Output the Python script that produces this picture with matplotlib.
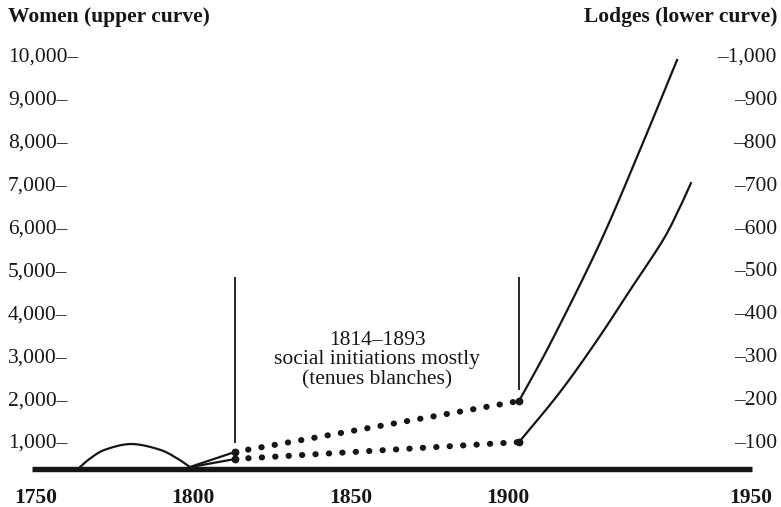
import matplotlib
matplotlib.use("Agg")
import numpy as np
import matplotlib.pyplot as plt

plt.rcParams['font.family'] = ['Liberation Serif', 'DejaVu Serif']

# 18th-century hump (women, adoption lodges)
early_years = [1764.0, 1767.1, 1771.9, 1780.3, 1789.4, 1795.0, 1798.9]
early_women = [394, 587, 796, 930, 796, 587, 394]

# women (left scale)
women_years = [1798.9, 1813.2, 1903.5, 1914.0, 1929.2, 1941.9, 1953.7]
women = [394, 744, 1933, 3355, 5616, 7783, 9881]

# lodges (right scale)
lodge_years = [1798.9, 1813.2, 1903.5, 1916.5, 1928.3, 1938.8, 1949.2, 1954.6, 1958.1]
lodges = [39, 58, 97.5, 214, 335, 452, 568, 645, 701]

# vertical markers around the 1814-1893 period
marker_years = [1813.2, 1903.5]
marker_bottoms = [956, 2191]
marker_top = 4823

base_level = 350
base_span = (1748.7, 1977.5)

x_ticks = [1750, 1800, 1850, 1900, 1977.2]
x_labels = ['1750', '1800', '1850', '1900', '1950']
y_ticks = [1000, 2000, 3000, 4000, 5000, 6000, 7000, 8000, 9000, 10000]
y_labels = ['1,000–', '2,000–', '3,000–', '4,000–', '5,000–',
            '6,000–', '7,000–', '8,000–', '9,000–', '10,000–']
r_ticks = [100, 200, 300, 400, 500, 600, 700, 800, 900, 1000]
r_labels = ['–100', '–200', '–300', '–400', '–500',
            '–600', '–700', '–800', '–900', '–1,000']

ink = '#161616'


def smooth(xs, ys, n=20):
    # catmull-rom through the read points, only for drawing
    p = np.column_stack([xs, ys]).astype(float)
    p = np.vstack([2 * p[0] - p[1], p, 2 * p[-1] - p[-2]])
    out = []
    t = np.linspace(0, 1, n, endpoint=False)[:, None]
    for i in range(1, len(p) - 2):
        p0, p1, p2, p3 = p[i - 1], p[i], p[i + 1], p[i + 2]
        out.append(0.5 * (2 * p1 + (-p0 + p2) * t
                          + (2 * p0 - 5 * p1 + 4 * p2 - p3) * t ** 2
                          + (-p0 + 3 * p1 - 3 * p2 + p3) * t ** 3))
    out.append(p[-2][None, :])
    out = np.vstack(out)
    return out[:, 0], out[:, 1]


fig = plt.figure(figsize=(7.81, 5.07), dpi=100)
ax = fig.add_axes([0, 0, 1, 1])
ax.set_xlim(1738.56, 1986.73)
ax.set_ylim(-538, 11280)
ax2 = ax.twinx()
ax2.set_ylim(-53.8, 1128.0)

for a in (ax, ax2):
    for s in a.spines.values():
        s.set_visible(False)
    a.patch.set_visible(False)

# baseline
ax.plot(base_span, [base_level, base_level], color=ink, lw=3.9,
        solid_capstyle='butt')

# hump
ax.plot(*smooth(early_years, early_women), color=ink, lw=1.6)

dots = dict(color=ink, lw=4.4, linestyle=(0, (0.05, 2.15)),
            dash_capstyle='round')

# women curve
ax.plot(women_years[:2], women[:2], color=ink, lw=1.6)
ax.plot(women_years[1:3], women[1:3], **dots)
ax.plot(*smooth(women_years[2:], women[2:]), color=ink, lw=1.6)
ax.plot(women_years[1:3], women[1:3], 'o', color=ink, ms=4.6)

# lodges curve
ax2.plot(lodge_years[:2], lodges[:2], color=ink, lw=1.6)
ax2.plot(lodge_years[1:3], lodges[1:3], **dots)
ax2.plot(*smooth(lodge_years[2:], lodges[2:]), color=ink, lw=1.6)
ax2.plot(lodge_years[1:3], lodges[1:3], 'o', color=ink, ms=4.6)

ax.vlines(marker_years, marker_bottoms, marker_top, color=ink, lw=1.3)

ax.text(1858.4, 2890, '1814–1893\nsocial initiations mostly\n(tenues blanches)',
        ha='center', va='center', fontsize=15.5, linespacing=1.04, color=ink)

# ticks
ax.set_xticks(x_ticks)
ax.set_xticklabels(x_labels, fontweight='bold', fontsize=15.5, color=ink)
ax.tick_params(axis='x', length=0, pad=-14.0)

ax.set_yticks(y_ticks)
ax.set_yticklabels(y_labels, fontsize=15.5, color=ink)
ax.tick_params(axis='y', length=0, pad=-5.8)
plt.setp(ax.get_yticklabels(), ha='left')

ax2.set_yticks(r_ticks)
ax2.set_yticklabels(r_labels, fontsize=15.5, color=ink)
ax2.tick_params(axis='y', length=0, pad=-2.9)
plt.setp(ax2.get_yticklabels(), ha='right')

fig.text(8 / 781, 1 - 17 / 507, 'Women (upper curve)', fontweight='bold',
         fontsize=15.5, ha='left', va='center', color=ink)
fig.text(777 / 781, 1 - 17 / 507, 'Lodges (lower curve)', fontweight='bold',
         fontsize=15.5, ha='right', va='center', color=ink)

fig.savefig('out.png', dpi=100)
